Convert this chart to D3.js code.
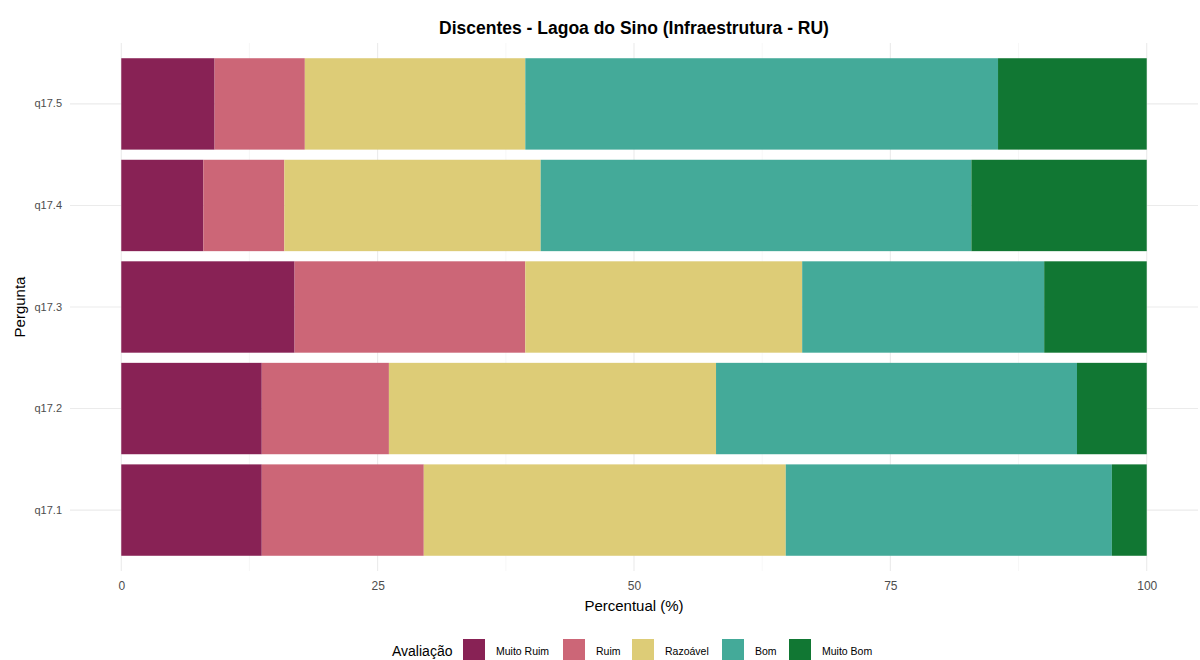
<!DOCTYPE html>
<html>
<head>
<meta charset="utf-8">
<script src="https://cdn.jsdelivr.net/npm/d3@7"></script>
<style>
  body { margin: 0; background: #fff; }
  svg { font-family: "Liberation Sans", Arial, sans-serif; }
</style>
</head>
<body>
<div id="chart-container"></div>
<script>
// data (percent per answer)
const perguntas = ["q17.1", "q17.2", "q17.3", "q17.4", "q17.5"];
const avaliacoes = ["Muito Ruim", "Ruim", "Razoável", "Bom", "Muito Bom"];
const muitoRuim = [13.7, 13.7, 16.9, 8.0, 9.1];
const ruim      = [15.8, 12.4, 22.5, 7.9, 8.8];
const razoavel  = [35.3, 31.9, 27.0, 25.0, 21.5];
const bom       = [31.8, 35.2, 23.6, 42.0, 46.1];
const muitoBom  = [3.4, 6.8, 10.0, 17.1, 14.5];
const xTicks = [0, 25, 50, 75, 100];
const colors = ["#882255", "#CC6677", "#DDCC77", "#44AA99", "#117733"];

const width = 1200;
const height = 660;
const margin = ({top: 43, right: 2, bottom: 89, left: 70});

const rows = perguntas.map((p, i) => ({
    pergunta: p,
    "Muito Ruim": muitoRuim[i],
    "Ruim": ruim[i],
    "Razoável": razoavel[i],
    "Bom": bom[i],
    "Muito Bom": muitoBom[i]
}));

const series = d3.stack().keys(avaliacoes)(rows);

// ggplot-like 5% expansion on 0..100
const x = d3.scaleLinear()
    .domain([-5, 105])
    .range([margin.left, width - margin.right]);

const y = d3.scaleBand()
    .domain(perguntas.slice().reverse())
    .range([margin.top, height - margin.bottom])
    .paddingInner(0.1)
    .paddingOuter(0.15);

const color = d3.scaleOrdinal().domain(avaliacoes).range(colors);

const svg = d3.select("#chart-container")
    .append("svg")
    .attr("width", width)
    .attr("height", height)
    .attr("viewBox", [0, 0, width, height]);

// grid lines
const grid = svg.append("g").attr("class", "grid");
const minor = [12.5, 37.5, 62.5, 87.5];
grid.selectAll(".minor")
    .data(minor)
    .join("line")
    .attr("x1", d => x(d)).attr("x2", d => x(d))
    .attr("y1", margin.top).attr("y2", height - margin.bottom)
    .attr("stroke", "#f2f2f2")
    .attr("stroke-width", 0.6);
grid.selectAll(".major")
    .data(xTicks)
    .join("line")
    .attr("x1", d => x(d)).attr("x2", d => x(d))
    .attr("y1", margin.top).attr("y2", height - margin.bottom)
    .attr("stroke", "#ebebeb")
    .attr("stroke-width", 1.1);
grid.selectAll(".hline")
    .data(perguntas)
    .join("line")
    .attr("x1", margin.left).attr("x2", width - margin.right)
    .attr("y1", d => y(d) + y.bandwidth() / 2)
    .attr("y2", d => y(d) + y.bandwidth() / 2)
    .attr("stroke", "#ebebeb")
    .attr("stroke-width", 1.1);

// bars
svg.append("g")
    .attr("class", "bars")
    .selectAll("g")
    .data(series)
    .join("g")
    .attr("fill", d => color(d.key))
    .selectAll("rect")
    .data(d => d)
    .join("rect")
    .attr("x", d => x(d[0]))
    .attr("y", d => y(d.data.pergunta))
    .attr("width", d => x(d[1]) - x(d[0]))
    .attr("height", y.bandwidth());

// x axis
const xAxis = svg.append("g")
    .attr("class", "x-axis")
    .attr("transform", `translate(0,${height - margin.bottom})`)
    .call(d3.axisBottom(x).tickValues(xTicks).tickSize(0).tickPadding(10));
xAxis.select(".domain").remove();
xAxis.selectAll("text")
    .attr("fill", "#4d4d4d")
    .style("font-size", "12px");

// y axis
const yAxis = svg.append("g")
    .attr("class", "y-axis")
    .attr("transform", `translate(${margin.left},0)`)
    .call(d3.axisLeft(y).tickSize(0).tickPadding(8));
yAxis.select(".domain").remove();
yAxis.selectAll("text")
    .attr("fill", "#4d4d4d")
    .style("font-size", "11px");

// titles
svg.append("text")
    .attr("x", x(50))
    .attr("y", 34)
    .attr("text-anchor", "middle")
    .style("font-size", "17.5px")
    .style("font-weight", "bold")
    .attr("fill", "#000")
    .text("Discentes - Lagoa do Sino (Infraestrutura - RU)");

svg.append("text")
    .attr("x", x(50))
    .attr("y", 611)
    .attr("text-anchor", "middle")
    .style("font-size", "15px")
    .attr("fill", "#000")
    .text("Percentual (%)");

svg.append("text")
    .attr("transform", `translate(25,${(margin.top + height - margin.bottom) / 2}) rotate(-90)`)
    .attr("text-anchor", "middle")
    .style("font-size", "15px")
    .attr("fill", "#000")
    .text("Pergunta");

// legend
const legend = svg.append("g").attr("class", "legend");
legend.append("text")
    .attr("x", 392)
    .attr("y", 656)
    .style("font-size", "14px")
    .attr("fill", "#000")
    .text("Avaliação");

const keyX = [463, 563, 632, 722, 789];
const items = legend.selectAll(".item")
    .data(avaliacoes)
    .join("g")
    .attr("transform", (d, i) => `translate(${keyX[i]},639)`);
items.append("rect")
    .attr("width", 22)
    .attr("height", 21)
    .attr("fill", d => color(d));
items.append("text")
    .attr("x", 33)
    .attr("y", 16)
    .style("font-size", "10.5px")
    .attr("fill", "#000")
    .text(d => d);
</script>
</body>
</html>
